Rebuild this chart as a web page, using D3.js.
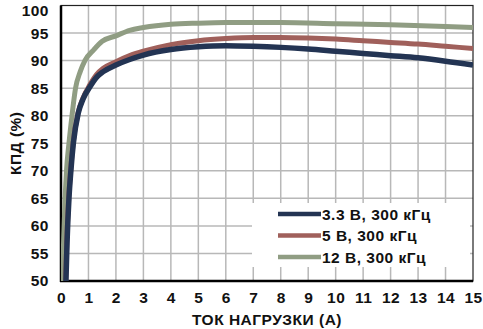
<!DOCTYPE html>
<html><head><meta charset="utf-8">
<script src="https://cdn.jsdelivr.net/npm/d3@7"></script>
<style>body{margin:0;background:#fff}svg{display:block}text{font-family:"Liberation Sans",Arial,sans-serif;font-weight:bold;fill:#111}</style>
</head><body><svg id="c" width="483" height="329"></svg>
<script>
const xTicks = d3.range(0, 16, 1);
const yTicks = [50, 55, 60, 65, 70, 75, 80, 85, 90, 95, 100];
const seriesNames = ["3.3 В, 300 кГц", "5 В, 300 кГц", "12 В, 300 кГц"];
const seriesColors = ["#233453", "#a0605b", "#909d83"];
const x33 = [0.18,0.22,0.29,0.36,0.45,0.63,0.8,1.06,1.3,1.54,2,2.5,3,4,5,6,7,8,9,10,11,12,13,14,15];
const y33 = [50,57,65,70,75,80.5,83,85.3,87,88,89.2,90.2,91,92,92.5,92.7,92.6,92.4,92.1,91.7,91.3,90.9,90.5,89.9,89.2];
const x5 = [0.17,0.21,0.28,0.35,0.44,0.62,0.8,1.05,1.3,1.54,2,2.5,3,4,5,6,7,8,9,10,11,12,13,14,15];
const y5 = [50,57,65,70,75,80.5,83.2,85.6,87.5,88.6,89.8,90.9,91.7,92.9,93.6,94.0,94.2,94.2,94.1,93.9,93.6,93.3,93.0,92.6,92.2];
const x12 = [0.05,0.1,0.15,0.2,0.29,0.4,0.53,0.7,0.87,1.2,1.5,2,2.5,3,4,5,6,8,10,12,14,15];
const y12 = [50,58,65,70,75,80,85,88,90,92,93.5,94.5,95.5,96,96.6,96.8,96.9,96.9,96.7,96.5,96.2,96.0];
const xTitle = "ТОК НАГРУЗКИ (А)";
const yTitle = "КПД (%)";

const L = 61, R = 473, T = 5.5, B = 281;
const FS = 15.5, LS = 0.5;
const svg = d3.select("#c");
const x = d3.scaleLinear().domain([0, 15]).range([L, R]);
const y = d3.scaleLinear().domain([50, 100]).range([B, T]);

// grid
svg.append("g").selectAll("line").data(xTicks.slice(1, -1)).join("line")
  .attr("x1", d => x(d)).attr("x2", d => x(d)).attr("y1", T).attr("y2", B)
  .attr("stroke", "#b8b8b8").attr("stroke-width", 1.5);
svg.append("g").selectAll("line").data(yTicks.slice(1, -1)).join("line")
  .attr("x1", L).attr("x2", R).attr("y1", d => y(d)).attr("y2", d => y(d))
  .attr("stroke", "#b8b8b8").attr("stroke-width", 1.5);

// axes with labels
const xa = svg.append("g").attr("transform", `translate(0,${B})`)
  .call(d3.axisBottom(x).tickValues(xTicks).tickSize(0).tickPadding(11).tickFormat(d3.format("d")));
const ya = svg.append("g").attr("transform", `translate(${L},0)`)
  .call(d3.axisLeft(y).tickValues(yTicks).tickSize(0).tickPadding(12).tickFormat(d3.format("d")));
[xa, ya].forEach(g => { g.select(".domain").remove(); g.selectAll("text").attr("font-size", FS).attr("letter-spacing", LS).attr("font-family", "Liberation Sans, Arial, sans-serif").attr("font-weight", "bold").attr("fill", "#111"); });
ya.selectAll(".tick").filter(d => d === 100).select("text").attr("dy", "0.62em");

// frame
svg.append("rect").attr("x", L).attr("y", T).attr("width", R - L).attr("height", B - T)
  .attr("fill", "none").attr("stroke", "#222").attr("stroke-width", 1.2);
svg.append("line").attr("x1", L).attr("x2", L).attr("y1", T).attr("y2", B + 1).attr("stroke", "#000").attr("stroke-width", 2.5);
svg.append("line").attr("x1", L - 1).attr("x2", R).attr("y1", B).attr("y2", B).attr("stroke", "#000").attr("stroke-width", 2.5);

// legend background
svg.append("rect").attr("x", 252).attr("y", 203).attr("width", 218).attr("height", 64).attr("fill", "#fff");

// curves
svg.append("clipPath").attr("id", "pc").append("rect").attr("x", L).attr("y", T).attr("width", R - L).attr("height", B - T);
const line = d3.line().x(d => x(d[0])).y(d => y(d[1])).curve(d3.curveMonotoneX);
const data = [d3.zip(x33, y33), d3.zip(x5, y5), d3.zip(x12, y12)];
const widths = [5.5, 5, 5];
[2, 1, 0].forEach(i => {
  svg.append("path").datum(data[i]).attr("d", line).attr("fill", "none")
    .attr("stroke", seriesColors[i]).attr("stroke-width", widths[i]).attr("clip-path", "url(#pc)");
});

// legend
const lg = svg.append("g");
seriesNames.forEach((n, i) => {
  const by = 219.5 + i * 21.5;
  lg.append("line").attr("x1", 278).attr("x2", 321).attr("y1", by - 5.5).attr("y2", by - 5.5)
    .attr("stroke", seriesColors[i]).attr("stroke-width", 4.5);
  lg.append("text").attr("x", 322).attr("y", by).attr("font-size", FS).attr("letter-spacing", LS).text(n);
});

// titles
svg.append("text").attr("x", (L + R) / 2).attr("y", 325).attr("text-anchor", "middle").attr("font-size", FS).attr("letter-spacing", LS).text(xTitle);
svg.append("text").attr("transform", `translate(20.5,${(T + B) / 2}) rotate(-90)`).attr("text-anchor", "middle").attr("font-size", FS).attr("letter-spacing", LS).text(yTitle);
</script></body></html>
